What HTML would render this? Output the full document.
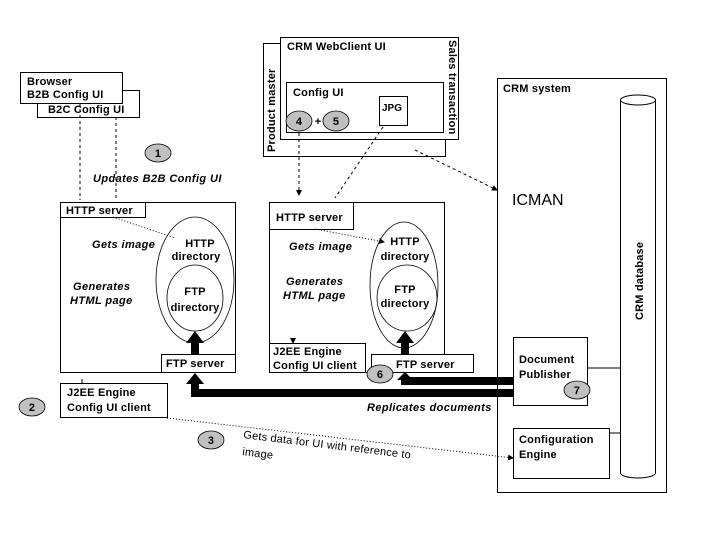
<!DOCTYPE html>
<html><head><meta charset="utf-8"><style>
body{margin:0;background:#fff}
svg{display:block}
text{font-family:"Liberation Sans",Arial,sans-serif;font-size:11px;font-weight:bold;fill:#000;letter-spacing:0.2px}
.i{font-style:italic;letter-spacing:0.4px}
</style></head><body>
<svg width="720" height="540" viewBox="0 0 720 540">
<defs>
<marker id="a" markerWidth="6" markerHeight="6" refX="5" refY="3" orient="auto" markerUnits="userSpaceOnUse"><path d="M0,0L6,3L0,6z" fill="#000"/></marker>
</defs>
<g fill="#fff" stroke="#000" stroke-width="1">
<rect x="37.5" y="90.5" width="102" height="27"/>
<rect x="20.5" y="72.5" width="102" height="31"/>
<rect x="263.5" y="43.5" width="182" height="113"/>
<rect x="280.5" y="37.5" width="178" height="102"/>
<rect x="286.5" y="82.5" width="157" height="50"/>
<rect x="379.5" y="96.5" width="28" height="29"/>
<rect x="60.5" y="202.5" width="175" height="170"/>
<rect x="60.5" y="202.5" width="85" height="15"/>
<ellipse cx="195" cy="280" rx="39" ry="63" fill="none" stroke-width="0.8"/>
<ellipse cx="195" cy="298" rx="28" ry="33" fill="none" stroke-width="0.8"/>
<rect x="161.5" y="354.5" width="74" height="18"/>
<rect x="60.5" y="383.5" width="107" height="34"/>
<rect x="269.5" y="202.5" width="175" height="170"/>
<rect x="269.5" y="202.5" width="84" height="27"/>
<ellipse cx="404" cy="285" rx="34" ry="63" fill="none" stroke-width="0.8"/>
<ellipse cx="407" cy="298" rx="30" ry="33" fill="none" stroke-width="0.8"/>
<rect x="269.5" y="343.5" width="96" height="29"/>
<rect x="371.5" y="354.5" width="102" height="18"/>
<rect x="497.5" y="78.5" width="169" height="414"/>
<path d="M620.5,100 L620.5,473 A17.5,5 0 0 0 655.5,473 L655.5,100"/>
<ellipse cx="638" cy="100" rx="17.5" ry="5"/>
<rect x="513.5" y="337.5" width="74" height="68"/>
<rect x="513.5" y="428.5" width="96" height="50"/>
</g>
<g stroke="#000" fill="none">
<path d="M587,368H620M609,433H620"/>
<path d="M80,103V200M116,117V200M299,133V195" stroke-dasharray="3,3" marker-end="url(#a)"/>
<path d="M383,127L335,198M415,150L497,190" stroke-dasharray="3,3" marker-end="url(#a)"/>
<path d="M113,217L175,238M315,229L384,242" stroke-dasharray="1,2" marker-end="url(#a)"/>
<path d="M167,418L513,458" stroke-dasharray="1,2" marker-end="url(#a)"/>
<path d="M82,379V383M293,338V343" marker-end="url(#a)"/>
<path d="M514,393H195V383" stroke-width="8"/>
<path d="M514,381H405V379" stroke-width="8"/>
<path d="M195,354V342M405,354V342" stroke-width="8"/>
</g>
<g fill="#000">
<path d="M186,384L195,373L204,384z"/>
<path d="M397,380L405,372L413,380z"/>
<path d="M186,343L195,331L204,343z"/>
<path d="M396,343L405,331L414,343z"/>
</g>
<g fill="#c0c0c0" stroke="#000" stroke-width="0.8">
<ellipse cx="158" cy="153" rx="13" ry="9"/>
<ellipse cx="32" cy="407" rx="13" ry="9"/>
<ellipse cx="211" cy="440" rx="13" ry="9"/>
<ellipse cx="299" cy="121" rx="13" ry="10"/>
<ellipse cx="336" cy="121" rx="13" ry="10"/>
<ellipse cx="380" cy="374" rx="13" ry="9"/>
<ellipse cx="577" cy="390" rx="13" ry="9"/>
</g>
<g text-anchor="middle">
<text x="158" y="157">1</text><text x="32" y="411">2</text><text x="211" y="444">3</text>
<text x="299" y="125">4</text><text x="336" y="125">5</text><text x="318" y="125">+</text>
<text x="380" y="378">6</text><text x="577" y="394">7</text>
<text x="200" y="247">HTTP</text><text x="196" y="260">directory</text>
<text x="195" y="295">FTP</text><text x="195" y="311">directory</text>
<text x="405" y="245">HTTP</text><text x="405" y="260">directory</text>
<text x="405" y="293">FTP</text><text x="405" y="307">directory</text>
</g>
<text x="27" y="85">Browser</text><text x="27" y="98">B2B Config UI</text>
<text x="48" y="113">B2C Config UI</text>
<text x="287" y="50">CRM WebClient UI</text>
<text x="293" y="96">Config UI</text>
<text x="382" y="111" style="font-size:10px;letter-spacing:0">JPG</text>
<text transform="translate(275,152) rotate(-90)">Product master</text>
<text transform="translate(449,40) rotate(90)">Sales transaction</text>
<text class="i" x="93" y="182">Updates B2B Config UI</text>
<text x="66" y="214">HTTP server</text>
<text x="276" y="221">HTTP server</text>
<text class="i" x="92" y="248">Gets image</text>
<text class="i" x="289" y="250">Gets image</text>
<text class="i" x="73" y="290">Generates</text><text class="i" x="70" y="304">HTML page</text>
<text class="i" x="286" y="285">Generates</text><text class="i" x="283" y="299">HTML page</text>
<text x="166" y="367">FTP server</text>
<text x="396" y="368">FTP server</text>
<text x="273" y="355">J2EE Engine</text><text x="273" y="369">Config UI client</text>
<text x="67" y="396">J2EE Engine</text><text x="67" y="411">Config UI client</text>
<text class="i" x="367" y="411">Replicates documents</text>
<text transform="translate(243,438) rotate(7)" style="font-weight:normal;font-size:11px">Gets data for UI with reference to</text>
<text x="242" y="455" transform="rotate(7 242 455)" style="font-weight:normal;font-size:11px">image</text>
<text x="503" y="92">CRM system</text>
<text x="512" y="205" style="font-size:16px;font-weight:normal;letter-spacing:0">ICMAN</text>
<text transform="translate(643,320) rotate(-90)">CRM database</text>
<text x="519" y="363">Document</text><text x="519" y="378">Publisher</text>
<text x="519" y="443">Configuration</text><text x="519" y="458">Engine</text>
</svg>
</body></html>
